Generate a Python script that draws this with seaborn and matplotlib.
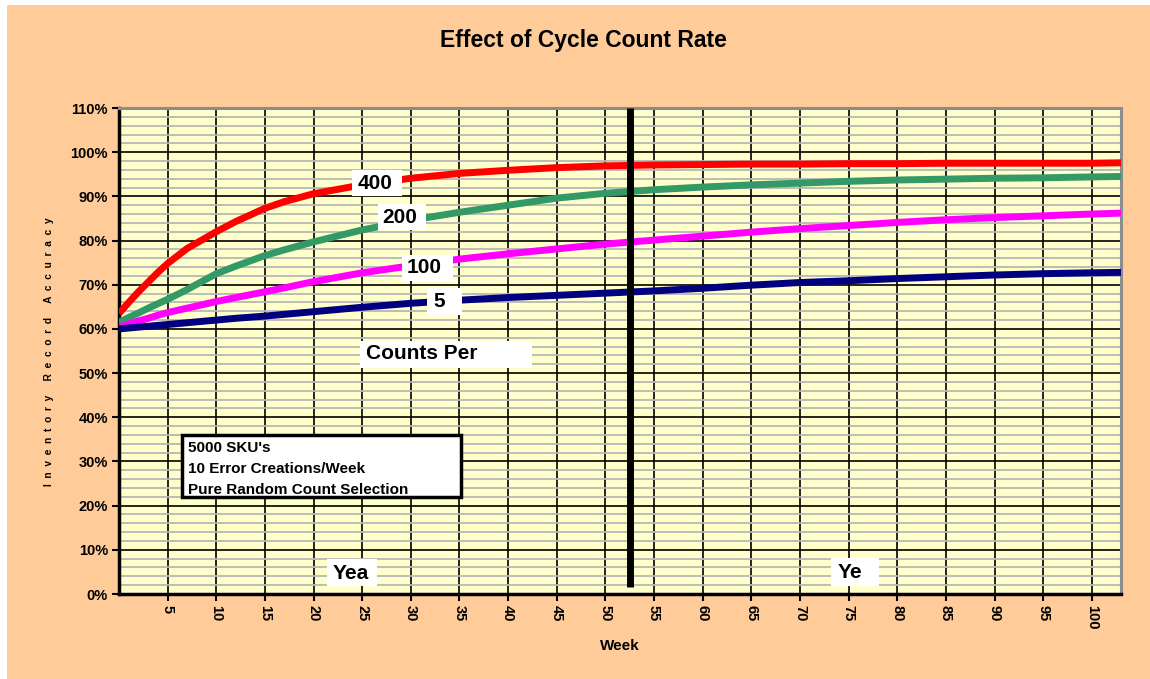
import matplotlib
matplotlib.use("Agg")
import matplotlib.pyplot as plt
from matplotlib.patches import Rectangle
from matplotlib.ticker import MultipleLocator
import seaborn as sns

weeks = [0, 1, 2, 3, 4, 5, 7, 10, 12, 15, 17, 20, 25, 30, 35, 40, 45, 50,
         55, 60, 65, 70, 75, 80, 85, 90, 95, 100, 103]

# inventory record accuracy (%) per counts-per-week setting
acc_400 = [63.5, 66.0, 68.4, 70.6, 72.8, 74.8, 78.2, 82.0, 84.3, 87.3, 88.8, 90.6,
           92.6, 94.1, 95.2, 95.9, 96.5, 96.9, 97.1, 97.2, 97.3, 97.3, 97.4, 97.4,
           97.5, 97.5, 97.5, 97.5, 97.6]
acc_200 = [61.5, 62.6, 63.6, 64.7, 65.7, 66.7, 68.9, 72.5, 74.2, 76.6, 77.9, 79.7,
           82.4, 84.6, 86.4, 88.0, 89.6, 90.7, 91.5, 92.1, 92.6, 93.0, 93.4, 93.7,
           93.9, 94.1, 94.2, 94.4, 94.5]
acc_100 = [60.4, 61.1, 61.8, 62.4, 63.1, 63.7, 64.7, 66.2, 67.1, 68.4, 69.3, 70.7,
           72.7, 74.3, 75.8, 77.0, 78.1, 79.2, 80.1, 81.0, 81.9, 82.7, 83.4, 84.1,
           84.7, 85.2, 85.6, 86.0, 86.2]
acc_5 = [60.0, 60.2, 60.4, 60.6, 60.8, 61.0, 61.4, 62.0, 62.4, 62.9, 63.3, 63.9,
         64.9, 65.8, 66.5, 67.1, 67.6, 68.1, 68.6, 69.2, 69.9, 70.5, 70.9, 71.4,
         71.8, 72.2, 72.5, 72.7, 72.8]

series = [("400", acc_400, "#FF0000"), ("200", acc_200, "#339966"),
          ("100", acc_100, "#FF00FF"), ("5", acc_5, "#000080")]

y_ticks = list(range(0, 111, 10))
x_ticks = list(range(5, 101, 5))
year_end = 52.5
info_lines = ["5000 SKU's", "10 Error Creations/Week", "Pure Random Count Selection"]

sns.set_style("white")
plt.rcParams["font.family"] = ["Liberation Sans", "DejaVu Sans"]
plt.rcParams["font.weight"] = "bold"
plt.rcParams["text.color"] = "black"
plt.rcParams["xtick.color"] = "black"
plt.rcParams["ytick.color"] = "black"
plt.rcParams["axes.labelcolor"] = "black"

fig = plt.figure(figsize=(11.5, 6.79), dpi=100, facecolor="white")
fig.add_artist(Rectangle((7 / 1150, 0), 1, 1 - 5 / 679, transform=fig.transFigure,
                         facecolor="#FFCC99", edgecolor="none", zorder=-10))
ax = fig.add_axes([119 / 1150, 1 - 594 / 679, (1121 - 119) / 1150, (594 - 108) / 679])
ax.set_facecolor("#FFFFCC")

for name, vals, col in series:
    sns.lineplot(x=weeks, y=vals, color=col, linewidth=5, ax=ax, zorder=3,
                 solid_capstyle="butt")

# end of first year marker
ax.plot([year_end, year_end], [1.5, 110], color="black", lw=5, zorder=4,
        solid_capstyle="butt", clip_on=False)

ax.set_xlim(0, 103)
ax.set_ylim(0, 110)
ax.set_xticks(x_ticks)
ax.set_xticklabels([str(t) for t in x_ticks], rotation=270, fontsize=10.5,
                   fontweight="bold")
ax.set_yticks(y_ticks)
ax.set_yticklabels([f"{t}%" for t in y_ticks], fontsize=10.5, fontweight="bold")
ax.yaxis.set_minor_locator(MultipleLocator(2))
ax.tick_params(which="major", direction="out", length=5, width=1.5, color="black",
               labelcolor="black", left=True, bottom=True, pad=3)
ax.tick_params(which="minor", length=0)
ax.set_axisbelow(True)
ax.grid(which="minor", axis="y", color="#B8B8B8", lw=1.3)
ax.grid(which="major", axis="both", color="black", lw=1.2)
ax.set_xlabel("")
ax.set_ylabel("")

for side in ["left", "bottom"]:
    ax.spines[side].set_color("black")
    ax.spines[side].set_linewidth(2.5)
for side in ["top", "right"]:
    ax.spines[side].set_color("#8C8C8C")
    ax.spines[side].set_linewidth(2.2)


def boxed(x0, x1, y0, y1, text, tx, ty, size=15):
    ax.add_patch(Rectangle((x0, y0), x1 - x0, y1 - y0, facecolor="white",
                           edgecolor="none", zorder=5))
    ax.text(tx, ty, text, ha="left", va="center", fontsize=size,
            fontweight="bold", color="black", zorder=6)


boxed(24.0, 29.1, 90.1, 96.0, "400", 24.5, 93.0)
boxed(26.6, 31.6, 82.4, 88.3, "200", 27.1, 85.3)
boxed(29.1, 34.3, 70.8, 76.7, "100", 29.6, 73.8)
boxed(31.7, 35.3, 63.2, 69.3, "5", 32.3, 66.2)
boxed(24.8, 42.5, 51.2, 57.2, "Counts Per", 25.4, 54.5)
boxed(21.4, 26.5, 1.7, 7.9, "Yea", 22.0, 4.7)
boxed(73.2, 78.1, 1.8, 8.1, "Ye", 73.9, 4.9)

# assumptions box
ax.add_patch(Rectangle((6.5, 22.0), 35.2 - 6.5, 36.0 - 22.0, facecolor="white",
                       edgecolor="black", lw=2.5, zorder=5))
for line, ly in zip(info_lines, [33.0, 28.3, 23.5]):
    ax.text(7.05, ly, line, ha="left", va="center", fontsize=11,
            fontweight="bold", color="black", zorder=6)

fig.text(583 / 1150, 1 - 40 / 679, "Effect of Cycle Count Rate", ha="center",
         va="center", fontsize=16.5, fontweight="bold", color="black")
fig.text(620 / 1150, 1 - 646 / 679, "Week", ha="center", va="center",
         fontsize=11, fontweight="bold", color="black")
fig.text(49 / 1150, 1 - 352 / 679, "  ".join("Inventory Record Accuracy"),
         rotation=90, ha="center", va="center", fontsize=7.3, fontweight="bold",
         color="black")

fig.savefig("out.png", dpi=100, facecolor=fig.get_facecolor())
